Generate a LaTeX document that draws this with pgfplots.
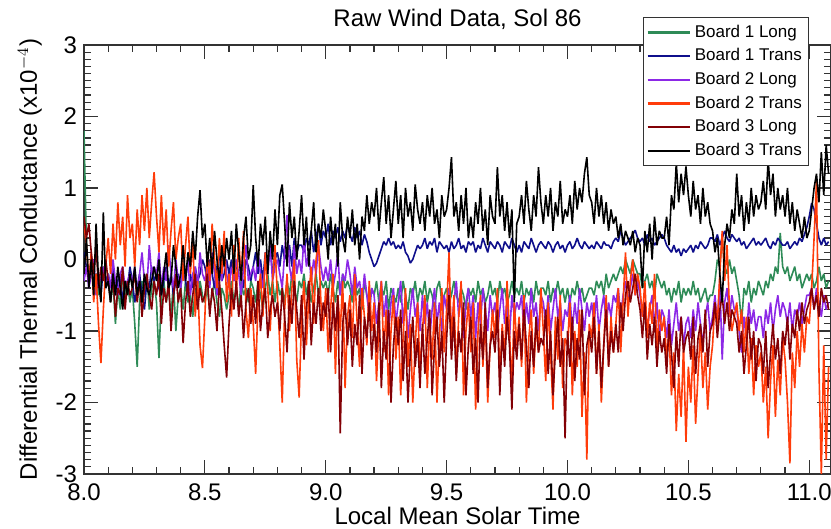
\documentclass[border=0pt]{standalone}
\usepackage{fontspec}
\setmainfont{Liberation Sans}
\usepackage{pgfplots}
\pgfplotsset{compat=1.18}
\usepackage{pgfplotstable}

\definecolor{bOneLong}{RGB}{46,139,87}
\definecolor{bOneTrans}{RGB}{15,15,140}
\definecolor{bTwoLong}{RGB}{140,40,230}
\definecolor{bTwoTrans}{RGB}{255,60,10}
\definecolor{bThreeLong}{RGB}{130,0,5}

% columns: time, B1 long, B1 trans, B2 long, B2 trans, B3 long, B3 trans
\pgfplotstableread{
x g b p r d k
8.00 1.8 0.1 -0.3 0.5 0.6 -0.2
8.01 0.2 -0.1 -0.1 0.2 0.3 0.3
8.02 -0.3 -0.3 -0.4 -0.3 0.5 -0.4
8.03 -0.1 0.0 -0.2 0.1 0.1 0.0
8.04 -0.4 -0.4 0.0 -0.6 -0.2 -0.5
8.05 -0.2 -0.2 -0.5 -0.2 0.2 0.5
8.06 -0.5 -0.3 -0.2 -0.9 -0.4 -0.3
8.07 -0.3 -0.5 -0.3 -1.45 -0.1 -0.6
8.08 -0.1 -0.1 -0.1 -0.7 -0.3 0.66
8.09 -0.4 -0.3 -0.4 -0.1 0.0 -0.4
8.10 -0.2 -0.2 -0.2 0.3 -0.3 -0.3
8.11 -0.6 -0.4 -0.4 -0.2 -0.6 -0.6
8.12 -0.3 -0.1 0.0 0.5 -0.2 -0.2
8.13 -0.9 -0.5 -0.3 0.0 -0.8 -0.5
8.14 -0.4 -0.3 -0.5 0.8 -0.4 -0.1
8.15 -0.7 -0.2 -0.2 0.2 -0.5 -0.4
8.16 -0.2 -0.6 -0.1 0.6 -0.1 -0.7
8.17 -0.5 -0.3 -0.4 -0.1 -0.7 -0.3
8.18 -0.3 -0.4 -0.3 0.9 -0.3 -0.5
8.19 -0.6 -0.1 -0.2 0.3 -0.5 -0.2
8.20 -0.4 -0.3 -0.3 0.5 -0.4 -0.4
8.21 -0.9 -0.6 -0.1 -0.1 -0.2 -0.1
8.22 -1.5 -0.4 -0.5 0.7 -0.6 -0.5
8.23 -0.6 -0.2 -0.2 0.2 -0.3 -0.3
8.24 -0.3 -0.5 0.1 0.9 -0.8 -0.6
8.25 -0.5 -0.7 -0.3 0.4 -0.4 -0.2
8.26 -0.2 -0.3 -0.4 1.0 -0.2 -0.4
8.27 -0.7 -0.4 0.2 0.3 -0.5 -0.5
8.28 -0.4 -0.1 -0.2 0.8 -0.7 -0.3
8.29 -0.3 -0.3 -0.1 1.22 -0.3 -0.1
8.30 -0.6 -0.2 -0.2 0.6 -0.5 -0.3
8.31 -1.38 -0.4 0.1 0.1 -0.2 0.0
8.32 -0.5 -0.5 -0.4 0.9 -0.9 -0.5
8.33 -0.3 -0.3 -0.1 0.2 -0.4 -0.2
8.34 -0.6 -0.1 -0.3 0.7 -0.6 0.1
8.35 -0.4 -0.4 0.2 -0.1 -0.3 -0.4
8.36 -0.8 -0.2 -0.2 0.4 -1.0 -0.3
8.37 -0.3 -0.5 -0.4 0.8 -0.5 0.2
8.38 -1.0 -0.3 0.0 0.0 -0.2 -0.1
8.39 -0.5 -0.2 -0.3 0.3 -0.6 -0.4
8.40 -0.4 -0.4 -0.4 0.5 -0.4 -0.2
8.41 -0.7 -0.1 -0.1 -0.3 -1.17 0.2
8.42 -0.3 -0.3 -0.3 0.2 -0.6 -0.3
8.43 -0.6 -0.5 0.0 0.6 -0.3 0.1
8.44 -0.5 -0.2 -0.5 -0.2 -0.8 -0.1
8.45 -0.8 -0.4 -0.2 0.3 -0.5 0.4
8.46 -0.4 -0.1 -0.1 -0.8 -0.2 0.0
8.47 -0.6 -0.3 -0.4 -0.3 -0.7 0.6
8.48 -0.3 -0.2 0.1 -1.2 -0.4 0.97
8.49 -0.5 0.0 -0.2 -1.52 -0.6 0.3
8.50 -0.6 -0.1 -0.3 -0.8 -0.5 0.5
8.51 -0.4 -0.3 -0.1 0.1 -0.2 -0.1
8.52 -0.7 0.0 -0.4 -0.3 -0.8 0.3
8.53 -0.5 -0.2 0.1 0.5 -0.4 -0.2
8.54 -0.3 -0.4 -0.2 0.0 -0.6 0.4
8.55 -0.6 -0.1 -0.5 -0.4 -1.0 0.0
8.56 -0.8 0.1 -0.1 0.3 -0.3 -0.3
8.57 -0.4 -0.3 -0.3 -0.2 -0.7 0.2
8.58 -0.5 -0.2 0.2 0.4 -1.2 -0.1
8.59 -0.7 0.0 -0.2 -0.6 -1.65 0.3
8.60 -0.5 -0.2 -0.4 -0.2 -0.9 0.0
8.61 -0.3 0.0 -0.1 -0.8 -0.4 0.4
8.62 -0.6 -0.3 -0.3 0.2 -0.7 -0.2
8.63 -0.4 -0.1 0.0 -0.5 -0.3 0.5
8.64 -0.7 0.1 -0.2 0.3 -0.8 0.1
8.65 -0.3 -0.2 -0.5 -0.3 -0.5 -0.3
8.66 -0.5 -0.4 -0.1 0.4 -1.1 0.3
8.67 -0.4 0.0 0.2 -0.7 -0.6 0.6
8.68 -0.6 -0.1 -0.3 -1.1 -0.4 0.0
8.69 -0.3 -0.3 -0.2 -0.4 -0.9 0.2
8.70 -0.4 -0.1 -0.1 -0.9 -0.5 1.04
8.71 -0.6 0.1 -0.3 -1.6 -0.9 0.3
8.72 -0.3 -0.2 0.1 -0.6 -0.3 -0.1
8.73 -0.5 0.0 -0.2 -0.2 -1.0 0.5
8.74 -0.7 -0.3 -0.4 -0.8 -0.6 0.2
8.75 -0.4 0.1 0.0 0.1 -0.4 0.6
8.76 -0.2 -0.1 -0.2 -0.4 -1.1 -0.2
8.77 -0.5 0.2 0.2 -1.0 -0.7 0.4
8.78 -0.3 -0.2 -0.3 -0.3 -0.5 0.0
8.79 -0.6 0.0 -0.1 0.2 -0.8 0.7
8.80 -0.3 0.1 0.0 -0.5 -0.6 0.2
8.81 -0.5 -0.1 -0.2 -1.2 -1.0 0.9
8.82 -0.4 0.2 -0.4 -2.0 -0.4 1.05
8.83 -0.6 0.0 0.1 -0.7 -0.8 0.5
8.84 -0.3 0.1 0.62 -0.2 -1.3 -0.1
8.85 -0.5 0.2 -0.1 -1.0 -0.5 0.8
8.86 -0.2 -0.1 -0.3 -0.4 -0.9 0.3
8.87 -0.4 0.3 0.2 0.0 -0.3 0.6
8.88 -0.6 0.1 -0.2 -1.4 -0.7 0.0
8.89 -0.3 0.2 0.0 -1.93 -1.1 0.4
8.90 -0.4 0.2 -0.2 -0.8 -0.5 0.9
8.91 -0.2 0.1 0.3 -0.3 -1.4 0.2
8.92 -0.5 0.3 -0.1 -1.2 -0.7 0.6
8.93 -0.3 0.2 0.1 -0.5 -0.3 -0.1
8.94 -0.6 0.4 -0.3 -0.1 -1.2 0.4
8.95 -0.4 0.1 0.0 -0.9 -0.6 0.8
8.96 -0.2 0.3 -0.2 0.0 -0.9 0.1
8.97 -0.5 0.5 0.2 0.27 -0.4 0.5
8.98 -0.3 0.2 -0.1 -0.6 -1.0 0.3
8.99 -0.4 0.4 -0.3 -1.0 -0.6 0.7
9.00 -0.3 0.3 -0.1 -0.4 -0.8 0.4
9.01 -0.5 0.5 -0.3 -1.3 -0.4 0.0
9.02 -0.2 0.2 0.0 -0.7 -1.3 0.6
9.03 -0.4 0.4 -0.4 -0.2 -0.6 0.2
9.04 -0.6 0.3 -0.2 -1.6 -1.0 0.5
9.05 -0.3 0.45 0.1 -0.5 -0.5 -0.1
9.06 -0.5 0.25 -0.5 -1.0 -2.43 0.8
9.07 -0.2 0.4 -0.2 -0.3 -0.9 0.3
9.08 -0.4 0.3 -0.3 -1.8 -0.6 0.1
9.09 -0.3 0.5 0.0 -0.8 -1.2 0.6
9.10 -0.4 0.35 -0.2 -0.5 -0.7 0.3
9.11 -0.6 0.25 -0.5 -1.1 -1.5 0.7
9.12 -0.3 0.45 -0.1 -0.2 -0.9 0.2
9.13 -0.5 0.3 -0.4 -0.9 -1.2 0.5
9.14 -0.4 0.4 -0.3 -1.5 -0.5 0.0
9.15 -0.7 0.2 -0.6 -0.4 -1.6 0.6
9.16 -0.3 0.35 -0.2 -0.8 -0.8 0.4
9.17 -0.5 0.25 -0.5 -1.2 -1.1 0.9
9.18 -0.6 0.1 -0.8 -0.3 -0.6 0.5
9.19 -0.4 0.0 -0.4 -1.0 -1.4 0.8
9.20 -0.5 -0.1 -0.5 -0.6 -0.9 0.6
9.21 -0.3 -0.05 -0.9 -1.7 -1.3 1.0
9.22 -0.6 0.05 -0.6 -0.9 -0.6 0.4
9.23 -0.4 0.15 -0.3 -0.3 -1.8 0.8
9.24 -0.5 0.25 -0.8 -1.3 -1.0 1.15
9.25 -0.3 0.2 -0.5 -0.7 -1.4 0.5
9.26 -0.7 0.3 -1.0 -1.9 -0.7 0.9
9.27 -0.4 0.2 -0.6 -1.0 -2.0 0.3
9.28 -0.5 0.25 -0.4 -0.5 -1.2 0.7
9.29 -0.6 0.15 -0.9 -1.4 -0.8 1.1
9.30 -0.4 0.2 -0.6 -0.8 -1.2 0.5
9.31 -0.6 0.15 -0.3 -1.9 -0.7 0.9
9.32 -0.3 0.25 -0.9 -1.1 -1.7 0.3
9.33 -0.5 0.1 -0.5 -0.4 -1.0 1.0
9.34 -0.7 0.05 -1.1 -1.5 -2.0 0.6
9.35 -0.4 -0.05 -0.7 -0.9 -1.3 0.8
9.36 -0.5 0.0 -0.4 -2.0 -0.8 0.4
9.37 -0.3 0.1 -0.8 -1.2 -1.5 1.05
9.38 -0.6 0.2 -0.6 -0.6 -1.1 0.7
9.39 -0.4 0.15 -1.0 -1.6 -1.8 0.5
9.40 -0.5 0.2 -0.5 -1.0 -0.9 0.8
9.41 -0.3 0.3 -0.9 -0.5 -1.6 0.4
9.42 -0.6 0.15 -0.6 -1.8 -1.1 0.9
9.43 -0.4 0.25 -1.1 -0.9 -0.7 0.6
9.44 -0.5 0.2 -0.7 -1.4 -1.9 1.0
9.45 -0.7 0.3 -0.4 -0.6 -1.2 0.5
9.46 -0.4 0.1 -0.9 -2.0 -0.8 0.7
9.47 -0.3 0.25 -0.6 -1.1 -1.5 0.3
9.48 -0.6 0.2 -1.0 -0.4 -1.0 0.9
9.49 -0.5 0.15 -0.5 -1.3 -2.0 0.6
9.50 -0.4 0.2 -0.7 -0.7 -1.1 0.7
9.51 -0.6 0.1 -0.4 0.1 -0.5 1.0
9.52 -0.5 0.25 -1.0 -1.2 -1.4 1.43
9.53 -0.3 0.15 -0.6 -0.5 -0.8 0.6
9.54 -0.5 0.2 -0.3 -1.6 -1.7 0.8
9.55 -0.6 0.3 -0.8 -0.8 -1.0 0.4
9.56 -0.4 0.15 -0.5 -0.3 -1.3 0.9
9.57 -0.5 0.2 -1.1 -1.9 -0.6 0.5
9.58 -0.7 0.1 -0.6 -1.0 -1.9 1.0
9.59 -0.4 0.25 -0.4 -0.6 -1.2 0.3
9.60 -0.5 0.2 -0.8 -1.3 -0.8 0.6
9.61 -0.4 0.25 -0.5 -0.6 -1.6 0.3
9.62 -0.6 0.1 -1.1 -2.1 -1.1 0.8
9.63 -0.3 0.2 -0.6 -1.0 -2.0 0.5
9.64 -0.5 0.15 -0.9 -0.5 -0.9 1.0
9.65 -0.4 0.3 -0.4 -1.5 -1.4 0.4
9.66 -0.6 0.2 -0.7 -0.8 -0.6 0.7
9.67 -0.5 0.1 -1.0 -2.0 -1.8 0.2
9.68 -0.3 0.25 -0.5 -1.2 -1.2 0.9
9.69 -0.5 0.2 -0.8 -0.7 -1.0 0.6
9.70 -0.4 0.15 -0.6 -1.1 -1.3 0.5
9.71 -0.6 0.25 -1.0 -0.4 -0.7 1.29
9.72 -0.3 0.2 -0.7 -1.7 -1.9 0.6
9.73 -0.5 0.1 -0.4 -0.9 -1.0 0.9
9.74 -0.4 0.25 -0.9 -1.4 -1.5 0.4
9.75 -0.6 0.2 -0.6 -0.3 -0.8 0.8
9.76 -0.5 0.15 -1.1 -1.0 -1.2 0.3
9.77 -0.3 0.3 -0.5 -1.8 -2.1 0.7
9.78 -0.5 0.2 -0.8 -0.6 -1.0 -0.6
9.79 -0.4 0.1 -0.6 -1.2 -1.4 0.5
9.80 -0.5 0.2 -0.7 -0.8 -0.9 0.6
9.81 -0.3 0.1 -0.5 -1.5 -1.4 0.9
9.82 -0.6 0.25 -1.0 -0.5 -0.7 0.5
9.83 -0.4 0.2 -0.6 -2.0 -1.2 1.1
9.84 -0.5 0.15 -0.9 -1.1 -1.8 0.7
9.85 -0.4 0.3 -0.4 -0.7 -1.0 0.4
9.86 -0.6 0.2 -0.8 -1.6 -1.5 0.9
9.87 -0.3 0.1 -0.6 -0.9 -0.8 0.6
9.88 -0.5 0.2 -1.0 -1.3 -1.3 1.29
9.89 -0.4 0.25 -0.5 -0.4 -1.1 0.8
9.90 -0.4 0.2 -0.6 -1.0 -1.2 0.5
9.91 -0.5 0.15 -0.9 -1.7 -0.7 0.9
9.92 -0.3 0.25 -0.5 -0.6 -1.6 0.6
9.93 -0.6 0.2 -1.0 -1.3 -1.0 1.0
9.94 -0.4 0.1 -0.7 -2.1 -1.9 0.4
9.95 -0.5 0.2 -0.4 -0.8 -1.3 0.8
9.96 -0.3 0.25 -0.8 -1.4 -0.8 0.6
9.97 -0.5 0.15 -0.6 -0.5 -1.5 1.1
9.98 -0.4 0.2 -1.0 -1.8 -1.1 0.5
9.99 -0.6 0.1 -0.7 -1.1 -2.5 0.7
10.00 -0.4 0.2 -0.8 -1.2 -1.0 0.6
10.01 -0.6 0.25 -0.5 -0.6 -1.5 0.9
10.02 -0.4 0.15 -1.0 -1.9 -0.8 0.5
10.03 -0.5 0.2 -0.6 -1.0 -1.7 1.1
10.04 -0.3 0.3 -0.9 -1.5 -1.1 0.7
10.05 -0.5 0.2 -0.4 -0.7 -1.4 1.0
10.06 -0.4 0.15 -0.7 -2.2 -0.7 0.8
10.07 -0.6 0.25 -1.0 -1.3 -1.9 1.2
10.08 -0.5 0.2 -0.6 -2.8 -1.2 1.43
10.09 -0.4 0.15 -0.8 -0.9 -1.0 0.9
10.10 -0.4 0.2 -0.6 -1.1 -1.3 0.8
10.11 -0.5 0.15 -0.9 -0.6 -0.8 0.5
10.12 -0.3 0.25 -0.5 -1.6 -1.6 1.0
10.13 -0.4 0.2 -1.0 -0.9 -1.0 0.6
10.14 -0.3 0.15 -0.7 -2.0 -1.8 0.9
10.15 -0.5 0.25 -0.5 -1.2 -1.2 0.5
10.16 -0.2 0.2 -0.9 -0.5 -0.7 0.8
10.17 -0.4 0.2 -0.6 -1.5 -1.5 0.4
10.18 -0.3 0.15 -0.8 -0.8 -1.0 0.7
10.19 -0.2 0.25 -0.5 -1.3 -1.3 0.5
10.20 -0.3 0.3 -0.6 -0.9 -0.9 0.6
10.21 -0.2 0.25 -0.4 -0.4 -1.3 0.3
10.22 -0.1 0.4 -0.8 -1.3 -0.6 0.5
10.23 -0.2 0.3 -0.5 -0.6 -1.0 0.2
10.24 0.0 0.2 -0.3 0.1 -0.5 0.4
10.25 -0.1 0.25 -0.6 -0.8 -0.3 0.3
10.26 -0.2 0.3 -0.4 -0.3 -0.6 0.2
10.27 0.0 0.35 -0.2 0.0 -0.4 0.4
10.28 -0.1 0.41 -0.5 -0.5 -0.2 0.1
10.29 -0.2 0.3 -0.3 -0.2 -0.5 0.3
10.30 -0.2 0.25 -0.5 -0.4 -0.7 0.2
10.31 -0.4 0.3 -0.8 -0.8 -1.1 -0.4
10.32 -0.3 0.2 -0.6 -0.3 -0.6 0.4
10.33 -0.2 0.35 -1.0 -1.1 -1.4 0.1
10.34 -0.4 0.25 -0.7 -0.6 -0.9 0.5
10.35 -0.3 0.3 -0.5 -0.9 -1.2 0.0
10.36 -0.5 0.2 -0.9 -0.2 -0.8 0.6
10.37 -0.2 0.25 -0.6 -1.3 -1.5 0.2
10.38 -0.3 0.3 -1.1 -0.7 -1.0 0.4
10.39 -0.4 0.35 -0.7 -1.0 -1.3 0.3
10.40 -0.3 0.3 -0.8 -0.8 -1.1 0.3
10.41 -0.5 0.2 -1.1 -1.4 -1.6 0.6
10.42 -0.4 0.15 -0.7 -1.0 -0.9 0.2
10.43 -0.6 0.1 -1.2 -1.9 -1.3 0.9
10.44 -0.4 0.2 -0.9 -1.3 -1.8 0.7
10.45 -0.5 0.1 -0.6 -2.4 -1.0 1.35
10.46 -0.3 0.15 -1.0 -1.6 -1.5 0.8
10.47 -0.6 0.05 -0.8 -2.2 -0.8 1.2
10.48 -0.4 0.15 -1.2 -1.2 -1.3 0.9
10.49 -0.5 0.1 -0.9 -2.55 -1.1 1.3
10.50 -0.4 0.15 -0.8 -1.5 -1.0 0.9
10.51 -0.5 0.2 -1.1 -2.0 -1.4 0.6
10.52 -0.3 0.1 -0.7 -1.2 -0.8 1.1
10.53 -0.5 0.2 -1.0 -2.3 -1.6 0.7
10.54 -0.4 0.15 -0.6 -1.6 -1.1 0.9
10.55 -0.6 0.25 -0.9 -1.0 -0.9 0.5
10.56 -0.5 0.2 -1.2 -1.8 -1.3 1.0
10.57 -0.4 0.15 -0.8 -1.3 -0.7 0.6
10.58 -0.6 0.2 -0.6 -2.1 -1.5 0.8
10.59 -0.5 0.3 -1.0 -1.5 -1.0 0.5
10.60 -0.5 0.3 -0.8 -1.2 -0.9 0.4
10.61 -0.3 0.25 -0.5 -0.6 -0.6 0.1
10.62 0.0 0.35 -0.9 -0.9 -1.1 0.3
10.63 -0.1 0.2 -0.3 -0.2 -0.7 -0.2
10.64 0.3 0.3 -1.4 0.4 -0.5 -0.6
10.65 -0.1 0.4 -0.6 -0.3 -0.9 0.2
10.66 -0.2 0.3 -0.4 0.2 -0.6 0.5
10.67 0.0 0.25 -0.8 -0.7 -1.0 0.3
10.68 -0.2 0.35 -0.5 -1.0 -0.7 0.7
10.69 -0.1 0.3 -0.7 -0.8 -0.8 0.5
10.70 -0.3 0.25 -0.7 -0.6 -0.9 1.2
10.71 -0.5 0.3 -1.0 -1.0 -1.3 0.6
10.72 -0.9 0.2 -1.3 -0.7 -1.0 0.9
10.73 -0.4 0.25 -0.8 -1.3 -1.6 0.4
10.74 -0.5 0.15 -1.1 -0.8 -1.2 0.8
10.75 -0.3 0.2 -0.6 -1.6 -0.8 0.5
10.76 -0.6 0.25 -0.9 -1.1 -1.4 1.0
10.77 -0.4 0.3 -0.7 -1.9 -1.0 0.6
10.78 -0.5 0.2 -1.0 -1.2 -1.7 0.9
10.79 -0.3 0.25 -0.8 -1.5 -1.1 0.7
10.80 -0.4 0.2 -0.8 -1.3 -1.2 0.8
10.81 -0.5 0.25 -1.1 -2.0 -1.6 1.1
10.82 -0.3 0.3 -0.7 -1.5 -1.0 0.7
10.83 -0.4 0.2 -0.9 -2.5 -1.8 1.4
10.84 -0.2 0.15 -0.6 -1.7 -1.3 0.9
10.85 -0.3 0.25 -1.0 -1.2 -0.9 1.2
10.86 -0.1 0.2 -0.7 -2.2 -1.4 0.6
10.87 -0.2 0.3 -0.5 -1.4 -1.1 1.0
10.88 0.37 0.25 -0.8 -1.9 -1.6 0.7
10.89 -0.1 0.2 -0.6 -1.1 -1.0 0.9
10.90 -0.2 0.2 -0.7 -1.4 -1.2 0.6
10.91 -0.1 0.25 -0.9 -2.0 -0.8 1.0
10.92 -0.3 0.15 -0.6 -2.85 -1.4 0.5
10.93 -0.2 0.2 -1.0 -1.3 -0.9 0.8
10.94 -0.1 0.25 -0.7 -1.8 -1.1 0.4
10.95 -0.3 0.2 -0.8 -1.0 -0.7 0.7
10.96 -0.2 0.3 -0.6 -1.5 -1.0 0.5
10.97 -0.4 0.25 -0.9 -0.9 -0.6 0.3
10.98 -0.3 0.35 -0.7 -1.3 -0.9 0.6
10.99 -0.2 0.45 -0.5 -0.8 -0.7 0.3
11.00 -0.3 0.6 -0.5 -0.9 -0.6 0.4
11.01 -0.2 0.79 -0.4 -0.4 -0.4 0.7
11.02 -0.4 0.7 -0.7 0.3 -0.7 1.0
11.03 -0.3 0.5 -0.4 1.1 -0.5 1.2
11.04 -0.1 0.3 -0.6 -1.5 -0.8 0.8
11.05 -0.3 0.2 -0.8 -3.0 -0.4 1.5
11.06 -0.2 0.3 -0.5 -1.2 -0.6 0.9
11.07 -0.4 0.2 -0.7 -2.8 -0.5 1.6
11.08 -0.3 0.25 -0.6 -1.5 -0.7 1.2
}\wind

\begin{document}
\begin{tikzpicture}
\begin{axis}[
    scale only axis,
    width=373.5pt, height=214.5pt,
    xmin=8, xmax=11.09, ymin=-3, ymax=3,
    xtick={8,8.5,...,11}, minor x tick num=4,
    ytick={-3,-2,...,3}, minor y tick num=9,
    tick align=inside,
    major tick length=7pt, minor tick length=3.5pt,
    axis line style={line width=0.7pt, black!80},
    every tick/.style={black!80, line width=0.6pt},
    /pgf/number format/assume math mode=true,
    xticklabel style={yshift=-1.5pt, /pgf/number format/.cd, fixed, fixed zerofill, precision=1},
    tick label style={font=\fontsize{12}{12}\selectfont},
    label style={font=\fontsize{12}{12}\selectfont},
    xlabel style={yshift=4pt},
    title style={font=\fontsize{12}{12}\selectfont, yshift=-2pt},
    title={Raw Wind Data, Sol 86},
    xlabel={Local Mean Solar Time},
    ylabel={Differential Thermal Conductance (x10$^{-4}$)},
    legend style={at={(0.748,1.065)}, anchor=north west, draw=black!80,
      line width=0.6pt, fill=white, font=\fontsize{8.5}{9}\selectfont,
      inner xsep=1.5pt, inner ysep=1.5pt, row sep=0.2pt},
    legend cell align=left,
    legend image code/.code={\draw[#1, line width=1.2pt] (0pt,0pt) -- (21pt,0pt);},
    every axis plot/.append style={line width=0.8pt, line join=bevel},
]
\addplot[bOneLong] table[x=x, y=g] {\wind};
\addplot[bOneTrans] table[x=x, y=b] {\wind};
\addplot[bTwoLong] table[x=x, y=p] {\wind};
\addplot[bTwoTrans] table[x=x, y=r] {\wind};
\addplot[bThreeLong] table[x=x, y=d] {\wind};
\addplot[black] table[x=x, y=k] {\wind};
\legend{Board 1 Long, Board 1 Trans, Board 2 Long, Board 2 Trans, Board 3 Long, Board 3 Trans}
\end{axis}
\pgfresetboundingbox
\path ([xshift=-42pt, yshift=-27.5pt]current axis.south west) rectangle ([yshift=22.5pt]current axis.north east);
\end{tikzpicture}
\end{document}
